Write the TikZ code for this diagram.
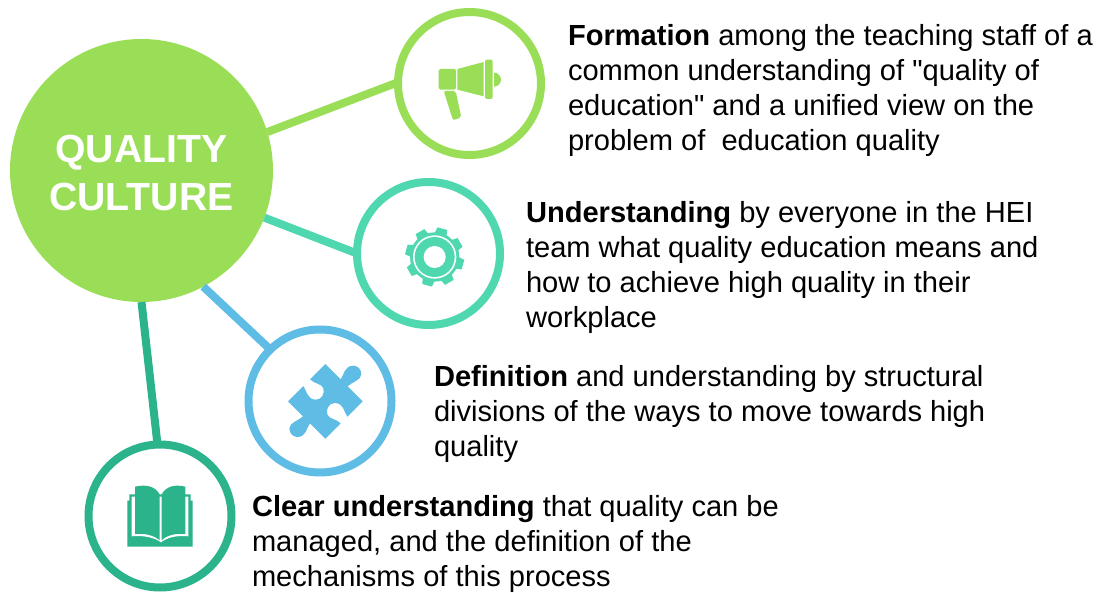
\documentclass[tikz,border=0pt]{standalone}
\usepackage{fontspec}
\setmainfont{Liberation Sans}[Ligatures=TeXOff]
\definecolor{cgreen}{HTML}{9ADE58}
\definecolor{cteal}{HTML}{4FD8B0}
\definecolor{cblue}{HTML}{5FBDE5}
\definecolor{cdeep}{HTML}{2BB38B}
\tikzset{
  ring/.style={circle,draw=#1,line width=8pt,minimum size=143pt,inner sep=0pt,outer sep=0pt},
  link/.style={draw=#1,line width=8pt},
  para/.style={anchor=north west,inner sep=0pt,outer sep=0pt,align=left,font=\fontsize{29.08}{35.2}\selectfont,text=black},
  icon/.style={shift={#1},x=0.33333pt,y=-0.33333pt}
}
\begin{document}
\begin{tikzpicture}[x=1pt,y=-1pt]
\useasboundingbox (0,0) rectangle (1099,593);
\node[circle,fill=cgreen,minimum size=263pt,inner sep=0pt,outer sep=0pt] (big) at (141.5,170.5) {};
\node[text=white,align=center,inner sep=0pt,font=\fontsize{39.2}{48}\selectfont\bfseries] (bigtext) at (141.5,173) {QUALITY\\CULTURE};
\node[ring=cgreen] (c1) at (469.5,83.5) {};
\node[ring=cteal] (c2) at (428.5,253.5) {};
\node[ring=cblue] (c3) at (320,401) {};
\node[ring=cdeep] (c4) at (160,516) {};
\draw[link=cgreen] (big.17.6) -- (c1.179);
\draw[link=cteal] (big.-21) -- (c2.180);
\draw[link=cblue] (big.-62) -- (c3.134.5);
\draw[link=cdeep] (big.-90) -- (c4.92);
% megaphone
\begin{scope}[icon={(390pt,0pt)}]
\fill[cgreen,rounded corners=1.5pt] (146,207) rectangle (198,269);
\fill[cgreen] (202,207) -- (281,186) -- (281,289) -- (202,269) -- cycle;
\fill[cgreen,rounded corners=1.5pt] (285,179) rectangle (308,297);
\fill[cgreen] (312,218) .. controls (324,218) and (333,228) .. (333,239) .. controls (333,250) and (324,260) .. (312,260) -- cycle;
\fill[cgreen,rounded corners=2pt] (161,273) -- (197,273) -- (214,352) -- (189,361) -- cycle;
\end{scope}
% gear
\begin{scope}[icon={(350pt,-175pt)}]
\fill[cteal] (254,246) circle[radius=74];
\foreach \a in {30,75,...,345}{
  \fill[cteal,shift={(254,246)},rotate=\a] (60,-20) -- (88,-15) -- (88,15) -- (60,20) -- cycle;
}
\fill[white] (254,246) circle[radius=65];
\fill[cteal] (254,246) circle[radius=60];
\fill[white] (254,246) circle[radius=33];
\end{scope}
% puzzle
\begin{scope}[icon={(240pt,-325pt)}]
\fill[cblue] (144,229) -- (190,183)
  .. controls (200,195) and (200,224) .. (228,224)
  .. controls (245,224) and (255,205) .. (250,190)
  .. controls (245,175) and (225,178) .. (210,163)
  -- (256,117) -- (302,163)
  .. controls (312,150) and (313,122) .. (340,122)
  .. controls (355,122) and (364,135) .. (364,148)
  .. controls (364,165) and (335,172) .. (323,184)
  -- (368,229) -- (322,275)
  .. controls (312,263) and (312,234) .. (284,234)
  .. controls (267,234) and (257,253) .. (262,268)
  .. controls (267,283) and (287,280) .. (302,295)
  -- (256,341) -- (210,295)
  .. controls (200,308) and (199,336) .. (172,336)
  .. controls (157,336) and (148,323) .. (148,310)
  .. controls (148,293) and (177,286) .. (189,274)
  -- cycle;
\end{scope}
% book
\begin{scope}[icon={(80pt,-435pt)}]
\fill[cdeep] (142,197) -- (148,197) -- (148,178) -- (332,178) -- (332,197) -- (338,197) -- (338,335) -- (142,335) -- cycle;
\fill[white] (155,185) -- (325,185) -- (325,304) .. controls (290,300) and (260,308) .. (243,322) .. controls (225,308) and (190,300) .. (155,304) -- cycle;
\fill[cdeep] (165,155) .. controls (195,148) and (225,152) .. (239,178) -- (239,316) .. controls (222,300) and (190,294) .. (165,297) -- cycle;
\fill[cdeep] (316,155) .. controls (286,148) and (260,152) .. (245,178) -- (245,316) .. controls (260,300) and (291,294) .. (316,297) -- cycle;
\end{scope}
\node[para] (t1) at (568,24) {\textbf{Formation} among the teaching staff of a\\common understanding of "quality of\\education" and a unified view on the\\problem of\ \ education quality};
\node[para] (t2) at (526,201) {\textbf{Understanding} by everyone in the HEI\\team what quality education means and\\how to achieve high quality in their\\workplace};
\node[para] (t3) at (434,365) {\textbf{Definition} and understanding by structural\\divisions of the ways to move towards high\\quality};
\node[para] (t4) at (252,495) {\textbf{Clear understanding} that quality can be\\managed, and the definition of the\\mechanisms of this process};
\end{tikzpicture}
\end{document}
